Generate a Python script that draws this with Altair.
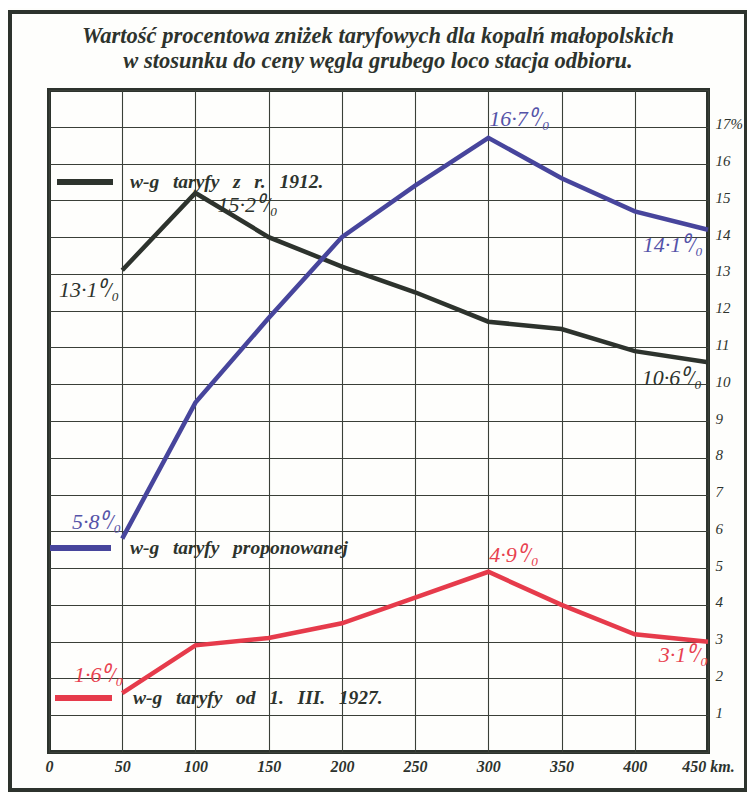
import altair as alt
import pandas as pd

# ---- data ----
km = [50, 100, 150, 200, 250, 300, 350, 400, 450]
s1912 = [13.1, 15.2, 14.0, 13.2, 12.5, 11.7, 11.5, 10.9, 10.6]
sprop = [5.8, 9.5, 11.8, 14.0, 15.4, 16.7, 15.6, 14.7, 14.2]
s1927 = [1.6, 2.9, 3.1, 3.5, 4.2, 4.9, 4.0, 3.2, 3.0]

series_names = ["w-g taryfy z r. 1912.", "w-g taryfy proponowanej", "w-g taryfy od 1. III. 1927."]
series_colors = ["#2d332d", "#47459c", "#e63b4b"]
label_colors = ["#2d332d", "#5553a8", "#e8414f"]

title_lines = ["Wartość procentowa zniżek taryfowych dla kopalń małopolskich",
               "w stosunku do ceny węgla grubego loco stacja odbioru."]

x_ticks = [0, 50, 100, 150, 200, 250, 300, 350, 400, 450]
y_ticks = list(range(0, 19))

# value labels: (series index, km, text, align, dx, dy)
value_labels = [
    (0, 50, "13·1⁰/₀", "right", -3, 20),
    (0, 100, "15·2⁰/₀", "left", 22, 12),
    (0, 450, "10·6⁰/₀", "right", -6, 16),
    (1, 300, "16·7⁰/₀", "left", 1, -19),
    (1, 450, "14·1⁰/₀", "right", -5, 15),
    (1, 50, "5·8⁰/₀", "right", -1, -17),
    (2, 300, "4·9⁰/₀", "left", 1, -17),
    (2, 450, "3·1⁰/₀", "right", 0, 13),
    (2, 50, "1·6⁰/₀", "right", 1, -18),
]

all_series = [s1912, sprop, s1927]
rows = []
for name, vals in zip(series_names, all_series):
    for k, v in zip(km, vals):
        rows.append({"km": k, "value": v, "series": name})
df = pd.DataFrame(rows)

W, H = 659, 662
FONT = "Liberation Serif"
INK = "#2d332d"
SP = "\u2002\u2009"

xscale = alt.Scale(domain=[0, 450], nice=False, zero=False)
yscale = alt.Scale(domain=[0, 18], nice=False)

xaxis = alt.Axis(values=x_ticks, grid=True, ticks=False, domain=False,
                 labelExpr="datum.value == 450 ? '450 km.' : datum.label",
                 labelFlush=False, labelOverlap=False,
                 labelFont=FONT, labelFontStyle="italic", labelFontWeight="bold",
                 labelFontSize=16, labelColor=INK, labelPadding=6,
                 gridColor="#3a3f38", gridWidth=1.1, title=None)
yaxis = alt.Axis(orient="right", values=y_ticks, grid=True, ticks=False, domain=False,
                 labelExpr="datum.value == 17 ? '17%' : ((datum.value == 0 || datum.value == 18) ? '' : datum.label)",
                 labelFlush=False, labelOverlap=False,
                 labelFont=FONT, labelFontStyle="italic", labelFontSize=15,
                 labelColor=INK, labelPadding=7, labelAlign="left", labelOffset=-3,
                 gridColor="#3a3f38", gridWidth=1.1, title=None)

X = alt.X("km:Q", scale=xscale, axis=xaxis)
Y = alt.Y("value:Q", scale=yscale, axis=yaxis)

lines = alt.Chart(df).mark_line(strokeWidth=4.5, strokeJoin="miter").encode(
    x=X, y=Y,
    color=alt.Color("series:N", scale=alt.Scale(domain=series_names, range=series_colors), legend=None),
)

one = alt.Data(values=[{"a": 1}])

frame = alt.Chart(one).mark_rect(fillOpacity=0, stroke=INK, strokeWidth=4).encode(
    x=alt.value(-39), x2=alt.value(697), y=alt.value(-78), y2=alt.value(700))

layers = [frame, lines]

# title
for i, t in enumerate(title_lines):
    layers.append(alt.Chart(one).mark_text(
        text=t, font=FONT, fontStyle="italic", fontWeight="bold", fontSize=22.5,
        color=INK, align="center", baseline="middle").encode(
        x=alt.value(329), y=alt.value(-54 + i * 25)))

# legend samples (inside plot)
legend_pos = [(8, 64, 92, 81), (1, 62, 458, 81), (6, 63, 608, 84)]
for (x1, x2, yy, tx), name, col in zip(legend_pos, series_names, series_colors):
    layers.append(alt.Chart(one).mark_rule(color=col, strokeWidth=6).encode(
        x=alt.value(x1), x2=alt.value(x2), y=alt.value(yy)))
    layers.append(alt.Chart(one).mark_text(
        text=name.replace(" ", SP), font=FONT, fontStyle="italic", fontWeight="bold", fontSize=19.5,
        color=INK, align="left", baseline="middle").encode(
        x=alt.value(tx), y=alt.value(yy)))

# value labels
for si, k, txt, al, dx, dy in value_labels:
    v = all_series[si][km.index(k)]
    ldf = pd.DataFrame({"km": [k], "value": [v], "t": [txt]})
    layers.append(alt.Chart(ldf).mark_text(
        font=FONT, fontStyle="italic", fontSize=22, color=label_colors[si],
        align=al, baseline="middle", dx=dx, dy=dy).encode(
        x=X, y=Y, text="t:N"))

chart = alt.layer(*layers).properties(
    width=W, height=H,
    autosize=alt.AutoSizeParams(type="none"),
    padding={"left": 41, "top": 82, "right": 39, "bottom": 41},
    background="#fefefc",
).configure_view(stroke=INK, strokeWidth=4)

chart.save("out.html", embed_options={"renderer": "svg", "actions": False})
